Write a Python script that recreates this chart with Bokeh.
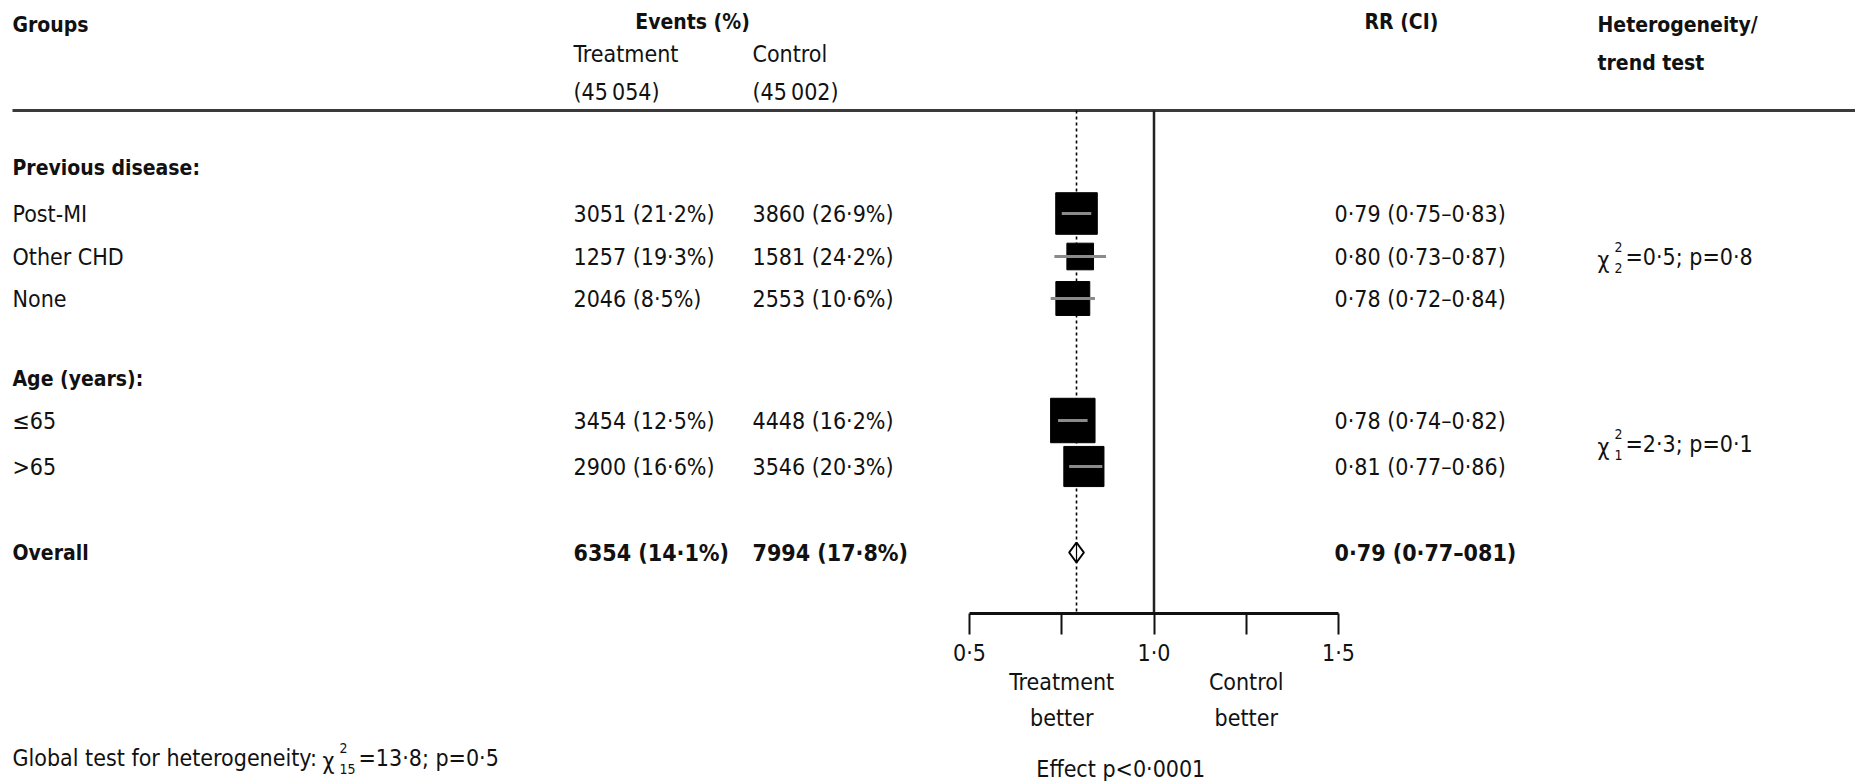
import math
from bokeh.plotting import figure
from bokeh.models import Range1d, LinearAxis, FixedTicker, ColumnDataSource
from bokeh.core.properties import value
from bokeh.embed import file_html
from bokeh.resources import INLINE

# ---------------- data ----------------
groups = ["Previous disease:", "Post-MI", "Other CHD", "None",
          "Age (years):", "\u226465", ">65", "Overall"]
is_bold = [True, False, False, False, True, False, False, True]

# rows with data (indices into groups)
data_rows = [1, 2, 3, 5, 6, 7]
treat_n = [3051, 1257, 2046, 3454, 2900, 6354]
treat_pct = [21.2, 19.3, 8.5, 12.5, 16.6, 14.1]
ctrl_n = [3860, 1581, 2553, 4448, 3546, 7994]
ctrl_pct = [26.9, 24.2, 10.6, 16.2, 20.3, 17.8]
rr = [0.79, 0.80, 0.78, 0.78, 0.81, 0.79]
rr_lo = [0.75, 0.73, 0.72, 0.74, 0.77, 0.77]
rr_hi = [0.83, 0.87, 0.84, 0.82, 0.86, 0.81]
rr_labels = ["0\u00b779 (0\u00b775\u20130\u00b783)", "0\u00b780 (0\u00b773\u20130\u00b787)",
             "0\u00b778 (0\u00b772\u20130\u00b784)", "0\u00b778 (0\u00b774\u20130\u00b782)",
             "0\u00b781 (0\u00b777\u20130\u00b786)", "0\u00b779 (0\u00b777\u2013081)"]

n_treat_total = "(45\u2009054)"
n_ctrl_total = "(45\u2009002)"

het_tests = [("2", "2", "=0\u00b75; p=0\u00b78"), ("2", "1", "=2\u00b73; p=0\u00b71")]
global_test = ("Global test for heterogeneity:", "2", "15", "=13\u00b78; p=0\u00b75")
effect_text = "Effect p<0\u00b70001"

axis_ticks = [0.5, 1.0, 1.5]
axis_minor = [0.75, 1.25]
axis_tick_labels = ["0\u00b75", "1\u00b70", "1\u00b75"]
favour_labels = [("Treatment", "better"), ("Control", "better")]

# ---------------- layout ----------------
W, H = 1855, 781
FONT = "'DejaVu Sans Condensed', 'Roboto Condensed', 'Liberation Sans Narrow', 'Liberation Sans', sans-serif"
FS = "23px"
FS_BOLD = "21px"
RR_PX0 = 969.0      # pixel of RR 0.5
PX_PER_RR = 369.0
ROW_Y = [167, 213, 256, 298, 378, 420, 466, 552]
HEADER_LINE_Y = 110
AXIS_Y = 613
X_LABEL = 12
X_TREAT = 573
X_CTRL = 752
X_RR = 1334
X_HET = 1597
X_GLOBAL_CHI = 322

p = figure(width=W, height=H, x_range=Range1d(0, W), y_range=Range1d(H, 0),
           output_backend="svg", toolbar_location=None, min_border=0,
           x_axis_type=None, y_axis_type=None)
p.outline_line_color = None
p.background_fill_color = "white"
p.border_fill_color = "white"
for g in p.grid:
    g.visible = False
p.extra_x_ranges = {"rr": Range1d(0.5 - RR_PX0 / PX_PER_RR,
                                   0.5 + (W - RR_PX0) / PX_PER_RR)}


def txt(x, y, s, bold=False, align="left", size=None, xr="default"):
    kw = {}
    if xr != "default":
        kw["x_range_name"] = xr
    if size is None:
        size = FS_BOLD if bold else FS
    p.text(x=[x], y=[y], text=[s], text_font=value(FONT), text_font_size=size,
           text_font_style="bold" if bold else "normal", text_align=align,
           text_baseline="middle", text_color="#111111", **kw)


def chi(x, y, sup, sub, rest, gap):
    txt(x, y + 3, "\u03c7", size="23px")
    txt(x + 17, y - 10, sup, size="14px")
    txt(x + 17, y + 11, sub, size="14px")
    txt(x + gap, y, rest)


# header
txt(X_LABEL, 24, "Groups", bold=True)
txt(692, 21, "Events (%)", bold=True, align="center")
txt(X_TREAT, 53, "Treatment")
txt(X_CTRL, 53, "Control")
txt(X_TREAT, 91, n_treat_total)
txt(X_CTRL, 91, n_ctrl_total)
txt(X_RR + 30, 21, "RR (CI)", bold=True)
txt(X_HET, 24, "Heterogeneity/", bold=True)
txt(X_HET, 62, "trend test", bold=True)
p.segment(x0=[X_LABEL], y0=[HEADER_LINE_Y], x1=[W], y1=[HEADER_LINE_Y],
          line_color="#3a3a3a", line_width=3)

# row labels
for g, y, b in zip(groups, ROW_Y, is_bold):
    txt(X_LABEL, y, g, bold=b)


def fmt(v):
    return f"{v:.1f}".replace(".", "\u00b7")


for k, ri in enumerate(data_rows):
    y = ROW_Y[ri]
    b = is_bold[ri]
    sz = FS
    txt(X_TREAT, y, f"{treat_n[k]} ({fmt(treat_pct[k])}%)", bold=b, size=sz)
    txt(X_CTRL, y, f"{ctrl_n[k]} ({fmt(ctrl_pct[k])}%)", bold=b, size=sz)
    txt(X_RR, y, rr_labels[k], bold=b, size=sz)

# heterogeneity tests
chi(X_HET, ROW_Y[2], *het_tests[0], gap=28)
chi(X_HET, (ROW_Y[5] + ROW_Y[6]) / 2, *het_tests[1], gap=28)
txt(X_LABEL, 757, global_test[0])
chi(X_GLOBAL_CHI, 757, global_test[1], global_test[2], global_test[3], gap=36)

# ---------------- forest plot ----------------
overall = rr[-1]
p.segment(x0=[overall], y0=[HEADER_LINE_Y], x1=[overall], y1=[AXIS_Y],
          x_range_name="rr", line_color="black", line_width=1.6, line_dash="3 3")
p.segment(x0=[1.0], y0=[HEADER_LINE_Y], x1=[1.0], y1=[AXIS_Y],
          x_range_name="rr", line_color="#222222", line_width=2.5)

sub_idx = list(range(len(data_rows) - 1))
src = ColumnDataSource(dict(
    x=[rr[i] for i in sub_idx],
    lo=[rr_lo[i] for i in sub_idx],
    hi=[rr_hi[i] for i in sub_idx],
    y=[ROW_Y[data_rows[i]] for i in sub_idx],
    size=[0.5 * math.sqrt(treat_n[i] + ctrl_n[i]) for i in sub_idx],
))
p.scatter(x="x", y="y", size="size", marker="square", source=src,
          x_range_name="rr", fill_color="black", line_color="black", line_width=1)
p.segment(x0="lo", y0="y", x1="hi", y1="y", source=src, x_range_name="rr",
          line_color="#8a8a8a", line_width=3)

# overall diamond
oy = ROW_Y[7]
p.patch(x=[rr_lo[-1], overall, rr_hi[-1], overall], y=[oy, oy - 10, oy, oy + 10],
        x_range_name="rr", fill_color="white", line_color="black", line_width=2)
p.segment(x0=[overall], y0=[oy - 10], x1=[overall], y1=[oy + 10],
          x_range_name="rr", line_color="black", line_width=1.2)

# axis
ax = LinearAxis(x_range_name="rr", fixed_location=AXIS_Y, bounds=(0.5, 1.5),
                ticker=FixedTicker(ticks=axis_ticks, minor_ticks=axis_minor),
                major_label_overrides={t: l for t, l in zip(axis_ticks, axis_tick_labels)},
                axis_line_width=3, axis_line_color="#111111",
                major_tick_in=0, major_tick_out=21, minor_tick_in=0, minor_tick_out=21,
                major_tick_line_width=2, minor_tick_line_width=2,
                major_tick_line_color="#111111", minor_tick_line_color="#111111",
                major_label_standoff=5, major_label_text_font=FONT,
                major_label_text_font_size=FS, major_label_text_color="#111111")
p.add_layout(ax, "below")

for xv, (l1, l2) in zip(axis_minor, favour_labels):
    txt(xv, 681, l1, align="center", xr="rr")
    txt(xv, 717, l2, align="center", xr="rr")
txt(0.91, 768, effect_text, align="center", xr="rr")

open("out.html", "w").write(file_html(p, INLINE))
